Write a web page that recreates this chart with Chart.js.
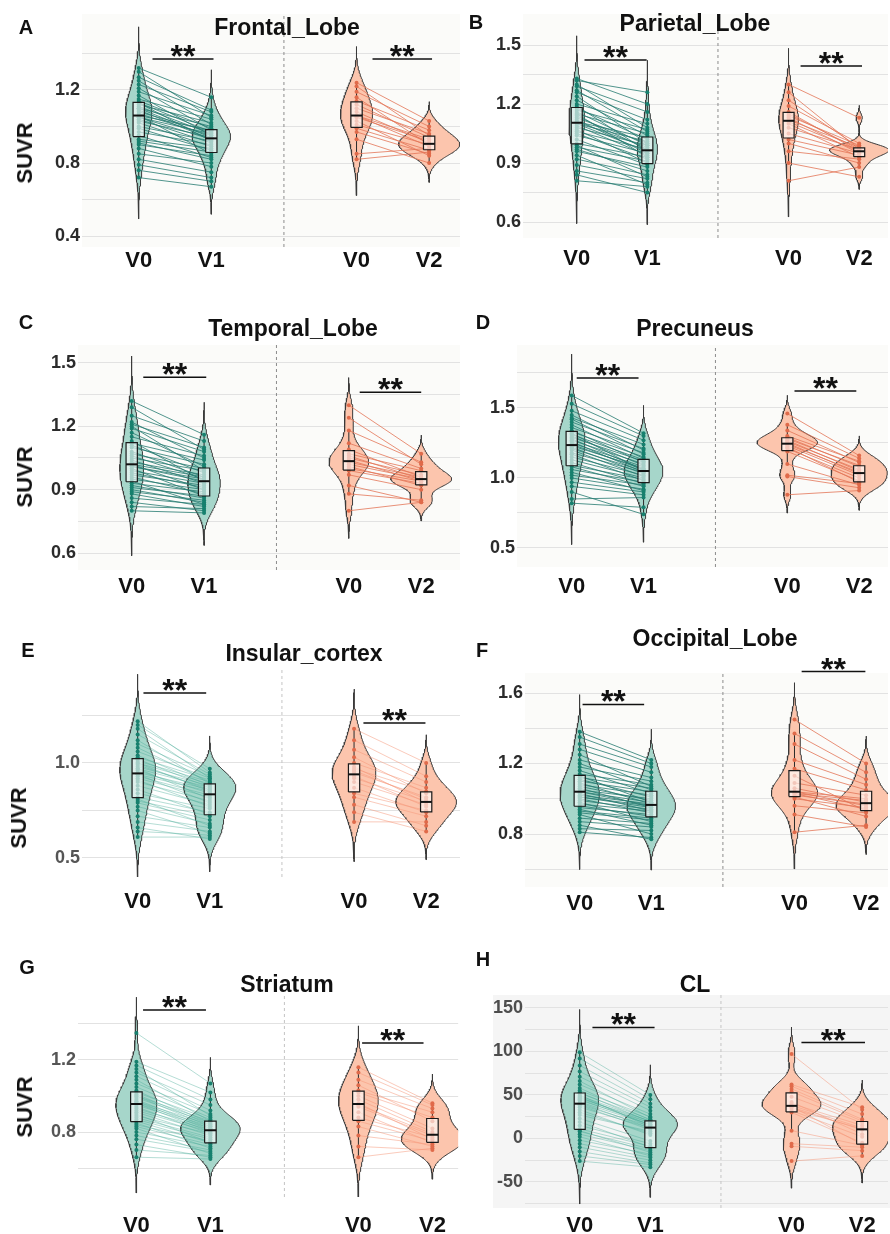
<!DOCTYPE html>
<html>
<head>
<meta charset="utf-8">
<script src="https://cdn.jsdelivr.net/npm/chart.js@4.4.1/dist/chart.umd.min.js"></script>
<style>
  body { margin: 0; background: #fff; }
  #fig { position: relative; width: 890px; height: 1234px; overflow: hidden;
         font-family: "Liberation Sans", Arial, sans-serif; }
  #fig canvas { position: absolute; }
  .lbl { position: absolute; transform: translate(-50%, -50%); font-weight: bold;
         white-space: nowrap; color: #111; line-height: 1; }
  .letter { font-size: 20px; }
  .title { font-size: 23px; }
  .ylab { font-size: 22px; transform: translate(-50%, -50%) rotate(-90deg); }
</style>
</head>
<body>
<div id="fig"></div>
<script>
// ---------- categories ----------
const groupLabels = ['V0', 'V1', 'V0', 'V2'];
const sigLabel = '**';

// ---------- Frontal lobe (SUVR) ----------
const frontalV0a = [0.72,0.76,0.79,0.82,0.85,0.88,0.90,0.91,0.92,0.93,0.95,0.97,0.99,1.00,1.02,1.03,1.04,1.05,1.05,1.06,1.06,1.07,1.08,1.09,1.10,1.10,1.11,1.12,1.13,1.13,1.14,1.15,1.17,1.19,1.21,1.23,1.25,1.27,1.30,1.32];
const frontalV1  = [0.67,0.70,0.72,0.75,0.80,0.78,0.84,0.82,0.86,0.88,0.83,0.90,0.87,0.92,0.89,0.94,0.91,0.96,0.93,0.98,0.85,0.95,0.97,0.93,1.00,0.94,0.96,1.02,0.97,0.92,0.99,1.04,0.95,1.06,0.98,1.08,1.01,1.09,1.05,1.16];
const frontalV0b = [0.82,0.85,0.93,0.97,0.99,1.01,1.03,1.05,1.06,1.06,1.08,1.10,1.12,1.14,1.16,1.19,1.22,1.24];
const frontalV2  = [0.86,0.88,0.80,0.85,0.87,0.90,0.84,0.92,0.89,0.93,0.91,0.96,0.94,0.98,0.90,1.00,0.95,1.03];
const frontalTicks = [0.4, 0.8, 1.2];
const frontalGrid  = [0.4, 0.6, 0.8, 1.0, 1.2, 1.4];

// ---------- Parietal lobe ----------
const parietalV0a = [0.81,0.84,0.86,0.89,0.92,0.94,0.96,0.97,0.98,0.99,1.00,1.02,1.04,1.05,1.06,1.07,1.08,1.09,1.10,1.10,1.11,1.11,1.12,1.13,1.14,1.15,1.15,1.16,1.17,1.18,1.19,1.20,1.22,1.24,1.26,1.27,1.29,1.30,1.32,1.33];
const parietalV1  = [0.78,0.75,0.80,0.82,0.84,0.79,0.88,0.86,0.91,0.83,0.93,0.89,0.95,0.92,0.97,0.90,0.99,0.94,1.01,0.96,0.98,1.03,0.95,1.00,0.97,1.05,0.93,0.99,1.07,1.02,0.96,1.10,1.04,1.00,1.12,1.06,1.16,1.08,1.26,1.20];
const parietalV0b = [0.81,0.90,0.96,1.00,1.02,1.05,1.08,1.10,1.11,1.12,1.13,1.14,1.15,1.16,1.19,1.22,1.26,1.30];
const parietalV2  = [0.88,0.83,0.92,0.90,0.94,0.95,0.97,0.93,0.96,0.98,0.95,0.99,0.97,0.96,1.00,0.98,0.97,1.13];
const parietalTicks = [0.6, 0.9, 1.2, 1.5];
const parietalGrid  = [0.6, 0.75, 0.9, 1.05, 1.2, 1.35, 1.5];

// ---------- Temporal lobe ----------
const temporalV0a = [0.80,0.82,0.84,0.86,0.88,0.89,0.90,0.91,0.92,0.93,0.94,0.95,0.96,0.97,0.98,0.99,1.00,1.01,1.01,1.02,1.02,1.03,1.04,1.05,1.06,1.07,1.08,1.10,1.11,1.12,1.13,1.15,1.17,1.19,1.20,1.21,1.22,1.25,1.29,1.32];
const temporalV1  = [0.79,0.81,0.80,0.83,0.82,0.85,0.84,0.87,0.86,0.89,0.83,0.90,0.88,0.92,0.91,0.93,0.87,0.95,0.94,0.96,0.90,0.97,0.93,0.99,0.95,1.00,0.96,1.02,0.98,1.04,0.94,1.06,1.01,1.08,0.99,1.10,1.05,1.13,1.09,1.16];
const temporalV0b = [0.80,0.88,0.92,0.97,0.99,1.00,1.01,1.02,1.03,1.04,1.05,1.06,1.07,1.09,1.12,1.18,1.24,1.30];
const temporalV2  = [0.84,0.85,0.84,0.90,0.93,0.94,0.92,0.95,0.96,0.94,0.97,0.95,0.99,0.96,1.00,1.03,1.02,1.07];
const temporalTicks = [0.6, 0.9, 1.2, 1.5];
const temporalGrid  = [0.6, 0.75, 0.9, 1.05, 1.2, 1.35, 1.5];

// ---------- Precuneus ----------
const precuneusV0a = [0.82,0.85,0.90,0.94,0.97,1.00,1.02,1.04,1.06,1.08,1.09,1.11,1.13,1.15,1.17,1.18,1.20,1.21,1.22,1.23,1.24,1.25,1.26,1.27,1.28,1.29,1.30,1.31,1.32,1.33,1.34,1.36,1.38,1.40,1.42,1.43,1.45,1.48,1.53,1.59];
const precuneusV1  = [0.79,0.86,0.74,0.88,0.90,0.92,0.95,0.91,0.97,0.94,0.99,0.96,1.00,1.02,0.98,1.04,1.01,1.05,1.03,1.07,1.06,1.08,1.04,1.10,1.06,1.12,1.09,1.13,1.05,1.15,1.11,1.18,1.14,1.21,1.17,1.24,1.20,1.27,1.30,1.32];
const precuneusV0b = [0.88,1.01,1.02,1.10,1.19,1.21,1.22,1.23,1.24,1.25,1.26,1.27,1.28,1.29,1.30,1.34,1.38,1.46];
const precuneusV2  = [0.91,0.93,0.96,0.95,0.98,1.00,0.97,1.02,1.04,1.03,1.06,1.05,1.09,1.08,1.12,1.11,1.14,1.16];
const precuneusTicks = [0.5, 1.0, 1.5];
const precuneusGrid  = [0.5, 0.75, 1.0, 1.25, 1.5, 1.75];

// ---------- Insular cortex ----------
const insularV0a = [0.61,0.64,0.66,0.69,0.72,0.75,0.77,0.79,0.80,0.81,0.82,0.84,0.86,0.88,0.90,0.91,0.92,0.93,0.94,0.94,0.95,0.96,0.97,0.97,0.98,0.99,1.00,1.00,1.01,1.02,1.03,1.04,1.06,1.08,1.10,1.12,1.15,1.18,1.20,1.22];
const insularV1  = [0.61,0.62,0.60,0.64,0.66,0.63,0.68,0.70,0.72,0.67,0.74,0.76,0.73,0.78,0.80,0.77,0.82,0.83,0.85,0.79,0.86,0.84,0.87,0.81,0.88,0.86,0.89,0.85,0.90,0.87,0.91,0.88,0.92,0.90,0.93,0.89,0.94,0.92,0.97,0.95];
const insularV0b = [0.69,0.74,0.78,0.82,0.84,0.87,0.90,0.92,0.93,0.95,0.96,0.97,0.98,1.00,1.03,1.07,1.12,1.18];
const insularV2  = [0.69,0.64,0.67,0.72,0.75,0.74,0.78,0.80,0.77,0.82,0.81,0.85,0.79,0.87,0.84,0.90,0.93,1.00];
const insularTicks = [0.5, 1.0];
const insularGrid  = [0.5, 0.75, 1.0, 1.25];

// ---------- Occipital lobe ----------
const occipitalV0a = [0.81,0.83,0.85,0.87,0.89,0.91,0.92,0.93,0.94,0.95,0.96,0.97,0.98,0.99,1.00,1.01,1.01,1.02,1.03,1.04,1.04,1.05,1.06,1.07,1.08,1.09,1.10,1.11,1.12,1.13,1.14,1.16,1.18,1.20,1.22,1.25,1.28,1.31,1.35,1.38];
const occipitalV1  = [0.78,0.82,0.77,0.84,0.86,0.80,0.88,0.89,0.85,0.91,0.90,0.93,0.87,0.94,0.92,0.96,0.95,0.97,0.93,0.98,0.96,1.00,0.95,0.99,1.02,0.97,1.04,1.01,1.06,0.98,1.08,1.03,1.10,1.05,1.12,1.07,1.15,1.18,1.20,1.22];
const occipitalV0b = [0.81,0.91,0.96,1.00,1.01,1.02,1.03,1.03,1.04,1.04,1.06,1.09,1.13,1.17,1.22,1.31,1.37,1.45];
const occipitalV2  = [0.85,0.84,0.92,0.95,0.90,0.97,0.99,0.94,1.00,0.96,0.98,1.02,0.93,1.05,1.08,1.11,1.15,1.20];
const occipitalTicks = [0.8, 1.2, 1.6];
const occipitalGrid  = [0.6, 0.8, 1.0, 1.2, 1.4, 1.6];

// ---------- Striatum ----------
const striatumV0a = [0.66,0.70,0.73,0.76,0.78,0.80,0.82,0.83,0.84,0.85,0.86,0.87,0.88,0.89,0.90,0.91,0.92,0.93,0.94,0.95,0.96,0.96,0.97,0.97,0.98,0.99,1.00,1.00,1.01,1.02,1.03,1.05,1.07,1.09,1.11,1.13,1.15,1.17,1.19,1.35];
const striatumV1  = [0.65,0.67,0.66,0.69,0.70,0.72,0.68,0.73,0.75,0.71,0.74,0.76,0.77,0.79,0.74,0.78,0.80,0.81,0.79,0.82,0.80,0.83,0.81,0.84,0.82,0.85,0.83,0.86,0.84,0.87,0.85,0.88,0.90,0.86,0.92,0.95,0.89,0.98,1.02,1.07];
const striatumV0b = [0.66,0.72,0.78,0.83,0.86,0.88,0.91,0.94,0.95,0.96,0.98,1.00,1.02,1.03,1.06,1.09,1.13,1.16];
const striatumV2  = [0.71,0.70,0.73,0.72,0.75,0.77,0.74,0.78,0.79,0.76,0.80,0.82,0.88,0.91,0.86,0.93,0.95,0.96];
const striatumTicks = [0.8, 1.2];
const striatumGrid  = [0.6, 0.8, 1.0, 1.2, 1.4];

// ---------- Centiloid ----------
const clV0a = [-26,-20,-15,-10,-6,-2,2,5,8,9,11,15,19,23,27,30,33,36,38,39,41,42,44,45,46,47,48,49,50,52,53,55,58,62,66,71,77,84,92,99];
const clV1  = [-33,-30,-28,-25,-22,-18,-20,-14,-12,-16,-9,-6,-10,-3,8,6,4,12,10,14,12,16,18,16,20,18,15,20,13,22,19,25,21,28,24,32,36,40,45,50];
const clV0b = [-26,-9,-6,9,30,32,34,36,37,38,40,42,48,54,57,60,62,97];
const clV2  = [-20,-14,-10,-8,-5,2,11,10,-7,12,15,5,18,20,22,28,36,33];
const clTicks = [-50, 0, 50, 100, 150];
const clGrid  = [-75, -50, -25, 0, 25, 50, 75, 100, 125, 150];

// ---------- styling ----------
const GREEN_FILL = '#a6d6ca';
const SALMON_FILL = '#fcc5ad';
const GREEN_DOT = '#17806e';
const SALMON_DOT = '#e06a4a';
const LINE_STRONG = { g: 'rgba(38,122,112,0.80)', s: 'rgba(228,118,88,0.80)', sep: '#8c8c8c' };
const LINE_SOFT   = { g: 'rgba(70,170,150,0.40)', s: 'rgba(246,150,120,0.50)', sep: '#c4c4c4' };
const HALF_WIDTH = 0.42;   // widest violin half-width, in x units
const BW_ADJUST = 1.25;    // kernel bandwidth multiplier
const BOX_HALF = 0.078;
const POS = [1, 2, 4, 5];  // V0 | V1 || V0 | V2
const SEP_X = 3;

// ---------- panel layout ----------
const panels = [
  { letter:'A', title:'Frontal_Lobe', g0:frontalV0a, g1:frontalV1, s0:frontalV0b, s2:frontalV2,
    ticks:frontalTicks, grid:frontalGrid, dec:1, left:0, top:0, w:462, h:290,
    padTop:14, xAxisH:43, yAxisW:82, yMin:0.340, yMax:1.616, xMin:0.219, xMax:5.425, xPad:1,
    tickColor:'#2b2b2b', lines:LINE_STRONG, bg:'#fbfbf9', bgFull:false,
    brackets:[[1.19,2.03,1.37],[4.22,5.04,1.37]],
    letterAt:[26,27], titleAt:[287,27], ylabAt:[25,153] },
  { letter:'B', title:'Parietal_Lobe', g0:parietalV0a, g1:parietalV1, s0:parietalV0b, s2:parietalV2,
    ticks:parietalTicks, grid:parietalGrid, dec:1, left:462, top:0, w:428, h:290,
    padTop:14, xAxisH:52, yAxisW:61, yMin:0.519, yMax:1.658, xMin:0.239, xMax:5.408, xPad:8,
    tickColor:'#2b2b2b', lines:LINE_STRONG, bg:'#fbfbf9', bgFull:false,
    brackets:[[1.11,1.99,1.424],[4.17,5.04,1.393]],
    letterAt:[476,22], titleAt:[695,23], ylabAt:null },
  { letter:'C', title:'Temporal_Lobe', g0:temporalV0a, g1:temporalV1, s0:temporalV0b, s2:temporalV2,
    ticks:temporalTicks, grid:temporalGrid, dec:1, left:0, top:290, w:462, h:310,
    padTop:55, xAxisH:30, yAxisW:78, yMin:0.5195, yMax:1.585, xMin:0.258, xMax:5.536, xPad:4,
    tickColor:'#2b2b2b', lines:LINE_STRONG, bg:'#fbfbf9', bgFull:false,
    brackets:[[1.16,2.03,1.432],[4.15,5.0,1.361]],
    letterAt:[26,322], titleAt:[293,328], ylabAt:[25,477] },
  { letter:'D', title:'Precuneus', g0:precuneusV0a, g1:precuneusV1, s0:precuneusV0b, s2:precuneusV2,
    ticks:precuneusTicks, grid:precuneusGrid, dec:1, left:462, top:290, w:428, h:310,
    padTop:55, xAxisH:33, yAxisW:55, yMin:0.364, yMax:1.95, xMin:0.239, xMax:5.401, xPad:7,
    tickColor:'#2b2b2b', lines:LINE_STRONG, bg:'#fbfbf9', bgFull:false,
    brackets:[[1.07,1.93,1.714],[4.10,4.96,1.621]],
    letterAt:[483,322], titleAt:[695,328], ylabAt:null },
  { letter:'E', title:'Insular_cortex', g0:insularV0a, g1:insularV1, s0:insularV0b, s2:insularV2,
    ticks:insularTicks, grid:insularGrid, dec:1, left:0, top:600, w:462, h:310,
    padTop:70, xAxisH:33, yAxisW:82, yMin:0.40, yMax:1.489, xMin:0.228, xMax:5.469, xPad:12,
    tickColor:'#555555', lines:LINE_SOFT, bg:'#ffffff', bgFull:false,
    brackets:[[1.08,1.95,1.368],[4.13,4.99,1.21]],
    letterAt:[28,650], titleAt:[304,653], ylabAt:[19,818] },
  { letter:'F', title:'Occipital_Lobe', g0:occipitalV0a, g1:occipitalV1, s0:occipitalV0b, s2:occipitalV2,
    ticks:occipitalTicks, grid:occipitalGrid, dec:1, left:462, top:600, w:428, h:310,
    padTop:73, xAxisH:23, yAxisW:63, yMin:0.4993, yMax:1.7135, xMin:0.236, xMax:5.306, xPad:4,
    tickColor:'#2b2b2b', lines:LINE_STRONG, bg:'#fbfbf9', bgFull:false,
    brackets:[[1.04,1.90,1.535],[4.10,4.99,1.722]],
    letterAt:[482,650], titleAt:[715,638], ylabAt:null },
  { letter:'G', title:'Striatum', g0:striatumV0a, g1:striatumV1, s0:striatumV0b, s2:striatumV2,
    ticks:striatumTicks, grid:striatumGrid, dec:1, left:0, top:910, w:462, h:324,
    padTop:85, xAxisH:37, yAxisW:78, yMin:0.439, yMax:1.561, xMin:0.211, xMax:5.348, xPad:16,
    tickColor:'#555555', lines:LINE_SOFT, bg:'#ffffff', bgFull:false,
    brackets:[[1.09,1.94,1.478],[4.05,4.88,1.294]],
    letterAt:[27,967], titleAt:[287,984], ylabAt:[25,1107] },
  { letter:'H', title:'CL', g0:clV0a, g1:clV1, s0:clV0b, s2:clV2,
    ticks:clTicks, grid:clGrid, dec:0, left:462, top:910, w:428, h:324,
    padTop:85, xAxisH:26, yAxisW:63, yMin:-79.9, yMax:164.9, xMin:0.225, xMax:5.366, xPad:5,
    tickColor:'#4d4d4d', lines:LINE_SOFT, bg:'#f5f5f5', bgFull:true, bgLeft:31,
    brackets:[[1.18,2.06,127.6],[4.14,5.04,110.3]],
    letterAt:[483,959], titleAt:[695,984], ylabAt:null }
];

// ---------- statistics helpers ----------
function sorted(vals) { return [...vals].sort((a, b) => a - b); }
function quantile(s, p) {
  const h = (s.length - 1) * p, lo = Math.floor(h), hi = Math.ceil(h);
  return s[lo] + (h - lo) * (s[hi] - s[lo]);
}
function boxStats(vals) {
  const s = sorted(vals);
  const q1 = quantile(s, 0.25), med = quantile(s, 0.5), q3 = quantile(s, 0.75);
  const iqr = q3 - q1;
  const lo = s.find(v => v >= q1 - 1.5 * iqr);
  const hi = [...s].reverse().find(v => v <= q3 + 1.5 * iqr);
  return { q1, med, q3, lo, hi };
}
// Gaussian kernel density (Silverman bandwidth scaled by BW_ADJUST), tails extended by 3 bandwidths
function kde(vals) {
  const s = sorted(vals), n = s.length;
  const mean = s.reduce((a, b) => a + b, 0) / n;
  const sd = Math.sqrt(s.reduce((a, b) => a + (b - mean) * (b - mean), 0) / (n - 1));
  const iqr = quantile(s, 0.75) - quantile(s, 0.25);
  let spread = Math.min(sd, iqr / 1.34);
  if (!(spread > 0)) spread = sd;
  const bw = BW_ADJUST * 0.9 * spread * Math.pow(n, -0.2);
  const lo = s[0] - 3 * bw, hi = s[n - 1] + 3 * bw;
  const steps = 140, ys = [], ds = [];
  const norm = 1 / (n * bw * Math.sqrt(2 * Math.PI));
  for (let i = 0; i <= steps; i++) {
    const y = lo + (hi - lo) * i / steps;
    let d = 0;
    for (const v of s) { const z = (y - v) / bw; d += Math.exp(-0.5 * z * z); }
    ys.push(y); ds.push(d * norm);
  }
  return { ys, ds };
}
function violinOutline(k, pos, scale) {
  const right = k.ys.map((y, i) => ({ x: pos + k.ds[i] * scale, y }));
  const left = k.ys.map((y, i) => ({ x: pos - k.ds[i] * scale, y })).reverse();
  return right.concat(left, [right[0]]);
}
function pairSegments(a, b, p0, p1) {
  const out = [];
  a.forEach((v, i) => { out.push({ x: p0, y: v }, { x: p1, y: b[i] }, { x: (p0 + p1) / 2, y: null }); });
  return out;
}

function buildDatasets(p) {
  const groups = [
    { vals: p.g0, pos: POS[0], fill: GREEN_FILL, dot: GREEN_DOT },
    { vals: p.g1, pos: POS[1], fill: GREEN_FILL, dot: GREEN_DOT },
    { vals: p.s0, pos: POS[2], fill: SALMON_FILL, dot: SALMON_DOT },
    { vals: p.s2, pos: POS[3], fill: SALMON_FILL, dot: SALMON_DOT }
  ];
  const dens = groups.map(g => kde(g.vals));
  const peak = Math.max(...dens.map(d => Math.max(...d.ds)));
  const k = HALF_WIDTH / peak;
  const ds = [];
  // dashed separator between the two visit comparisons
  ds.push({ data: [{ x: SEP_X, y: p.yMin }, { x: SEP_X, y: p.yMax }], borderColor: p.lines.sep,
            borderWidth: 1, borderDash: [3, 3], order: 60 });
  groups.forEach((g, i) => {
    ds.push({ data: violinOutline(dens[i], g.pos, k), fill: 'shape', backgroundColor: g.fill,
              borderColor: '#3a3a3a', borderWidth: 1, order: 50 });
  });
  ds.push({ data: pairSegments(p.g0, p.g1, POS[0], POS[1]), borderColor: p.lines.g, borderWidth: 1, order: 40 });
  ds.push({ data: pairSegments(p.s0, p.s2, POS[2], POS[3]), borderColor: p.lines.s, borderWidth: 1, order: 40 });
  groups.forEach(g => {
    const b = boxStats(g.vals);
    ds.push({ data: [{ x: g.pos, y: b.lo }, { x: g.pos, y: b.q1 }, { x: g.pos, y: null },
                     { x: g.pos, y: b.q3 }, { x: g.pos, y: b.hi }],
              borderColor: '#2a2a2a', borderWidth: 1, order: 30 });
    ds.push({ data: g.vals.map(v => ({ x: g.pos, y: v })), showLine: false, pointRadius: 2,
              pointBackgroundColor: g.dot, pointBorderWidth: 0, order: 20 });
    ds.push({ data: [{ x: g.pos - BOX_HALF, y: b.q1 }, { x: g.pos + BOX_HALF, y: b.q1 },
                     { x: g.pos + BOX_HALF, y: b.q3 }, { x: g.pos - BOX_HALF, y: b.q3 },
                     { x: g.pos - BOX_HALF, y: b.q1 }],
              fill: 'shape', backgroundColor: 'rgba(255,255,255,0.62)', borderColor: '#1a1a1a',
              borderWidth: 1.2, order: 10 });
    ds.push({ data: [{ x: g.pos - BOX_HALF, y: b.med }, { x: g.pos + BOX_HALF, y: b.med }],
              borderColor: '#111', borderWidth: 2, order: 5 });
  });
  p.brackets.forEach(br => {
    ds.push({ data: [{ x: br[0], y: br[2] }, { x: br[1], y: br[2] }], borderColor: '#111',
              borderWidth: 1.5, clip: false, order: 1 });
  });
  return ds;
}

Chart.defaults.font.family = '"Liberation Sans", Arial, sans-serif';

const fig = document.getElementById('fig');
panels.forEach(p => {
  const cv = document.createElement('canvas');
  cv.width = p.w; cv.height = p.h;
  cv.style.left = p.left + 'px'; cv.style.top = p.top + 'px';
  cv.style.width = p.w + 'px'; cv.style.height = p.h + 'px';
  fig.appendChild(cv);

  const isMajor = v => p.ticks.some(t => Math.abs(t - v) < 1e-9);
  new Chart(cv, {
    type: 'line',
    data: { datasets: buildDatasets(p) },
    options: {
      responsive: false, animation: false, devicePixelRatio: 1,
      layout: { padding: { top: p.padTop, left: 0, right: 0, bottom: 0 } },
      elements: { point: { radius: 0, hoverRadius: 0 }, line: { tension: 0, fill: false } },
      plugins: { legend: { display: false }, tooltip: { enabled: false } },
      events: [],
      scales: {
        x: {
          type: 'linear', min: p.xMin, max: p.xMax,
          afterBuildTicks: s => { s.ticks = POS.map(v => ({ value: v })); },
          afterFit: s => { s.height = p.xAxisH; },
          grid: { display: false, drawTicks: false }, border: { display: false },
          ticks: { autoSkip: false, maxRotation: 0, padding: p.xPad, color: '#111',
                   font: { size: 22, weight: 'bold' },
                   callback: v => groupLabels[POS.indexOf(v)] }
        },
        y: {
          type: 'linear', min: p.yMin, max: p.yMax,
          afterBuildTicks: s => { s.ticks = p.grid.map(v => ({ value: v })); },
          afterFit: s => { s.width = p.yAxisW; },
          grid: { color: '#e2e2e2', lineWidth: 1, drawTicks: false }, border: { display: false },
          ticks: { autoSkip: false, padding: 2, color: p.tickColor, font: { size: 18, weight: 'bold' },
                   callback: v => isMajor(v) ? v.toFixed(p.dec) : '' }
        }
      }
    },
    plugins: [
      { id: 'panelBg', beforeDraw(chart) {
          const { ctx, chartArea: a } = chart;
          ctx.save(); ctx.fillStyle = p.bg;
          if (p.bgFull) ctx.fillRect(p.bgLeft, a.top, chart.width - p.bgLeft, a.bottom - a.top);
          else ctx.fillRect(a.left, a.top, a.right - a.left, a.bottom - a.top);
          ctx.restore();
      } },
      { id: 'sigStars', afterDatasetsDraw(chart) {
          const { ctx, scales: { x, y } } = chart;
          ctx.save();
          ctx.font = 'bold 32px "Liberation Sans", Arial, sans-serif';
          ctx.fillStyle = '#111'; ctx.textAlign = 'center'; ctx.textBaseline = 'alphabetic';
          p.brackets.forEach(br => {
            ctx.fillText(sigLabel, x.getPixelForValue((br[0] + br[1]) / 2), y.getPixelForValue(br[2]) + 8);
          });
          ctx.restore();
      } }
    ]
  });

  const addText = (cls, text, at) => {
    const d = document.createElement('div');
    d.className = 'lbl ' + cls; d.textContent = text;
    d.style.left = at[0] + 'px'; d.style.top = at[1] + 'px';
    fig.appendChild(d);
  };
  addText('letter', p.letter, p.letterAt);
  addText('title', p.title, p.titleAt);
  if (p.ylabAt) addText('ylab', 'SUVR', p.ylabAt);
});
</script>
</body>
</html>
